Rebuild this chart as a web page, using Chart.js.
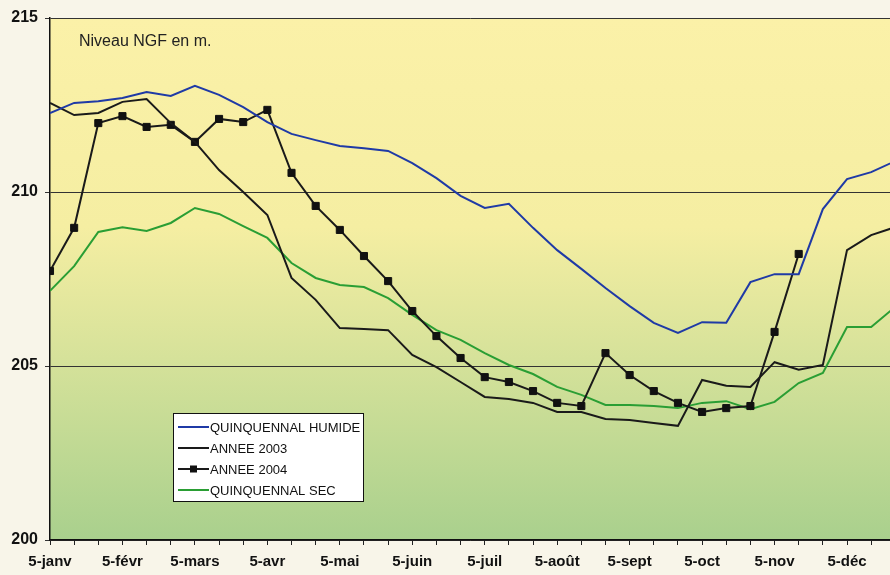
<!DOCTYPE html>
<html lang="fr">
<head>
<meta charset="utf-8">
<title>Niveau NGF</title>
<script src="https://cdn.jsdelivr.net/npm/chart.js@4.4.1/dist/chart.umd.min.js"></script>
<style>
  html, body { margin: 0; padding: 0; background: #f8f5e9; overflow: hidden; }
  #wrap { position: relative; width: 890px; height: 575px; }
  canvas { display: block; }
</style>
</head>
<body>
<div id="wrap"><canvas id="chart-niveau" width="890" height="575"></canvas></div>
<script>
/* Relevés tous les 10 jours (5, 15, 25 de chaque mois) */
const moisLabels = ['5-janv', '5-févr', '5-mars', '5-avr', '5-mai', '5-juin',
                    '5-juil', '5-août', '5-sept', '5-oct', '5-nov', '5-déc'];

const quinquennalHumide = [212.27, 212.56, 212.61, 212.70, 212.87, 212.76, 213.05, 212.79, 212.44,
                           212.01, 211.67, 211.49, 211.32, 211.26, 211.18, 210.83, 210.40, 209.89,
                           209.54, 209.66, 208.97, 208.33, 207.79, 207.24, 206.72, 206.24, 205.95,
                           206.26, 206.24, 207.41, 207.64, 207.64, 209.51, 210.37, 210.57, 210.89];

const annee2003 = [212.56, 212.21, 212.27, 212.59, 212.67, 211.98, 211.44, 210.63, 210.00,
                   209.34, 207.53, 206.90, 206.09, 206.06, 206.03, 205.32, 204.97, 204.54,
                   204.11, 204.05, 203.94, 203.68, 203.68, 203.48, 203.45, 203.36, 203.28,
                   204.60, 204.43, 204.40, 205.11, 204.89, 205.03, 208.33, 208.76, 208.99];

const annee2004 = [207.73, 208.97, 211.98, 212.18, 211.87, 211.93, 211.44, 212.10, 212.01,
                   212.36, 210.55, 209.60, 208.91, 208.16, 207.44, 206.58, 205.86, 205.23,
                   204.68, 204.54, 204.28, 203.94, 203.85, 205.37, 204.74, 204.28, 203.94,
                   203.68, 203.79, 203.85, 205.98, 208.22];

const quinquennalSec = [207.16, 207.87, 208.85, 208.99, 208.88, 209.11, 209.54, 209.37, 209.02,
                        208.68, 207.96, 207.53, 207.33, 207.27, 206.95, 206.47, 206.03, 205.75,
                        205.37, 205.03, 204.77, 204.40, 204.17, 203.88, 203.88, 203.85, 203.79,
                        203.94, 203.99, 203.76, 203.97, 204.51, 204.80, 206.12, 206.12, 206.70];

const niveauMin = 200;
const niveauMax = 215;
const niveauPas = 5;

const POLICE = "Arial, 'Liberation Sans', sans-serif";

function enPoints(valeurs) {
    return valeurs.map((v, i) => ({ x: i, y: v }));
}

/* fond dégradé jaune -> vert de la zone de tracé */
const fondDegrade = {
    id: 'fondDegrade',
    beforeDraw(chart) {
        const { ctx, chartArea: a } = chart;
        ctx.save();
        ctx.fillStyle = '#f8f5e9';
        ctx.fillRect(0, 0, chart.width, chart.height);
        const g = ctx.createLinearGradient(0, a.top, 0, a.bottom);
        g.addColorStop(0, '#fbf1a8');
        g.addColorStop(0.4, '#f5eea2');
        g.addColorStop(0.65, '#d6e29a');
        g.addColorStop(1, '#a9d08d');
        ctx.fillStyle = g;
        ctx.fillRect(a.left, a.top, a.right - a.left, a.bottom - a.top);
        ctx.restore();
    }
};

const legendeCadre = {
    id: 'legendeCadre',
    afterDraw(chart) {
        const ctx = chart.ctx;
        const x = 173, y = 413, w = 190, h = 88;
        ctx.save();
        ctx.fillStyle = '#ffffff';
        ctx.fillRect(x, y, w, h);
        ctx.strokeStyle = '#111';
        ctx.lineWidth = 1;
        ctx.strokeRect(x + 0.5, y + 0.5, w, h);

        ctx.font = '13px ' + POLICE;
        ctx.textBaseline = 'middle';
        chart.data.datasets.forEach((ds, i) => {
            const ly = y + 14 + i * 21;
            ctx.strokeStyle = ds.borderColor;
            ctx.lineWidth = 2;
            ctx.beginPath();
            ctx.moveTo(x + 5, ly);
            ctx.lineTo(x + 36, ly);
            ctx.stroke();
            if (ds.pointRadius > 0) {
                ctx.fillStyle = ds.pointBackgroundColor;
                ctx.fillRect(x + 17, ly - 3.5, 7, 7);
            }
            ctx.fillStyle = '#111';
            ctx.fillText(ds.label, x + 37, ly + 1);
        });

        ctx.font = '16px ' + POLICE;
        ctx.textBaseline = 'alphabetic';
        ctx.fillStyle = '#222';
        ctx.fillText('Niveau NGF en m.', 79, 46);
        ctx.restore();
    }
};

new Chart(document.getElementById('chart-niveau'), {
    type: 'line',
    data: {
        datasets: [
            {
                label: 'QUINQUENNAL HUMIDE',
                data: enPoints(quinquennalHumide),
                borderColor: '#1f3aa6',
                borderWidth: 2,
                pointRadius: 0
            },
            {
                label: 'ANNEE 2003',
                data: enPoints(annee2003),
                borderColor: '#1a1a1a',
                borderWidth: 2,
                pointRadius: 0
            },
            {
                label: 'ANNEE 2004',
                data: enPoints(annee2004),
                borderColor: '#1a1a1a',
                borderWidth: 2,
                pointStyle: 'rect',
                pointRadius: 5,
                pointBackgroundColor: '#111',
                pointBorderColor: '#111',
                pointBorderWidth: 1
            },
            {
                label: 'QUINQUENNAL SEC',
                data: enPoints(quinquennalSec),
                borderColor: '#2a9e34',
                borderWidth: 2,
                pointRadius: 0
            }
        ]
    },
    options: {
        responsive: false,
        animation: false,
        devicePixelRatio: 1,
        layout: { autoPadding: false, padding: { top: 18, right: 0, left: 0, bottom: 0 } },
        elements: { line: { tension: 0 } },
        plugins: {
            legend: { display: false },
            tooltip: { enabled: false }
        },
        scales: {
            x: {
                type: 'linear',
                min: 0,
                max: 34.78,
                afterFit(s) {
                    s.height = 35;
                    s.paddingLeft = 0;
                    s.paddingRight = 0;
                },
                border: { color: '#111', width: 1.5 },
                grid: { drawOnChartArea: false, tickLength: 5, color: '#222' },
                ticks: {
                    stepSize: 1,
                    autoSkip: false,
                    maxRotation: 0,
                    includeBounds: false,
                    padding: 8,
                    color: '#111',
                    font: { family: POLICE, size: 15, weight: 'bold' },
                    callback: v => (v % 3 === 0 ? moisLabels[v / 3] || '' : '')
                }
            },
            y: {
                min: niveauMin,
                max: niveauMax,
                afterFit(s) { s.width = 50; },
                border: { color: '#111', width: 1.5 },
                grid: { color: '#333', lineWidth: 1, tickLength: 5 },
                ticks: {
                    stepSize: niveauPas,
                    padding: 7,
                    color: '#111',
                    font: { family: POLICE, size: 16, weight: 'bold' }
                }
            }
        }
    },
    plugins: [fondDegrade, legendeCadre]
});
</script>
</body>
</html>
